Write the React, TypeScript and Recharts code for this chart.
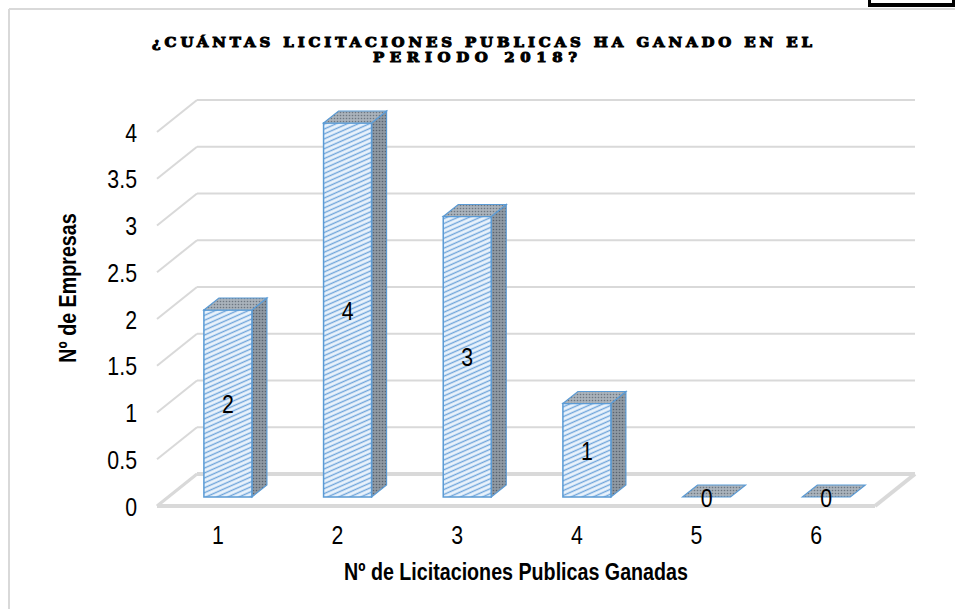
import React from 'react';
import { BarChart, Bar, XAxis, YAxis, CartesianGrid, LabelList } from 'recharts';

// datos
const categorias = ['1', '2', '3', '4', '5', '6'];
const empresas = [2, 4, 3, 1, 0, 0];
const yTicks = [0, 0.5, 1, 1.5, 2, 2.5, 3, 3.5, 4];

const tituloLinea1 = '¿CUÁNTAS LICITACIONES PUBLICAS HA GANADO EN EL';
const tituloLinea2 = 'PERIODO 2018?';
const tituloY = 'Nº de Empresas';
const tituloX = 'Nº de Licitaciones Publicas Ganadas';

const data = categorias.map((cat, i) => ({ cat, value: empresas[i] }));

const W = 955;
const H = 609;
const MARGIN = { top: 132, right: 80, bottom: 73, left: 97 };
const X_AXIS_H = 30;
const Y_AXIS_W = 60;
const PLOT_BOTTOM = H - MARGIN.bottom - X_AXIS_H;

// perspectiva: fondo del suelo y profundidad de barras
const DX = 40;
const DY = 32;
const BX = 11;
const BY = 9;
const BDX = 15;
const BDY = 12;

const FONT = "'Liberation Sans', Arial, sans-serif";
const NARROW = 0.82;
const GRID = '#d9d9d9';
const BLUE = '#5b9bd5';

const NarrowText = ({ x, y, anchor = 'middle', size = 26, weight = 400, rotate = 0, children }: any) => (
  <text
    transform={`translate(${x},${y}) rotate(${rotate}) scale(${NARROW},1)`}
    textAnchor={anchor}
    fontFamily={FONT}
    fontSize={size}
    fontWeight={weight}
    fill='#000'
  >
    {children}
  </text>
);

const gridLine = (props: any) => {
  const { x1, x2, y1, index } = props;
  const isFloor = Math.abs(y1 - PLOT_BOTTOM) < 1;
  return (
    <g key={`g-${index}`}>
      <line x1={x1} y1={y1} x2={x1 + DX} y2={y1 - DY} stroke={GRID} strokeWidth={2} />
      <line x1={x1 + DX} y1={y1 - DY} x2={x2 + DX} y2={y1 - DY} stroke={GRID} strokeWidth={2} />
      {isFloor && (
        <>
          <line x1={x1} y1={y1} x2={x2} y2={y1} stroke={GRID} strokeWidth={4} />
          <line x1={x2} y1={y1} x2={x2 + DX} y2={y1 - DY} stroke={GRID} strokeWidth={4} />
          <line x1={x1 + DX} y1={y1 - DY} x2={x2 + DX} y2={y1 - DY} stroke={GRID} strokeWidth={4} />
          <line x1={x1} y1={y1} x2={x1 + DX} y2={y1 - DY} stroke={GRID} strokeWidth={3} />
        </>
      )}
    </g>
  );
};

const Bar3D = (props: any) => {
  const { x, y, width, height } = props;
  const fx = x + BX;
  const fy = y - BY;
  const w = width;
  const h = Math.max(0, height);
  const top = `${fx},${fy} ${fx + BDX},${fy - BDY} ${fx + w + BDX},${fy - BDY} ${fx + w},${fy}`;
  const side = `${fx + w},${fy} ${fx + w + BDX},${fy - BDY} ${fx + w + BDX},${fy + h - BDY} ${fx + w},${fy + h}`;
  return (
    <g>
      {h > 0 && <polygon points={side} fill='url(#dotsSide)' stroke={BLUE} strokeWidth={1.2} />}
      {h > 0 && <rect x={fx} y={fy} width={w} height={h} fill='url(#hatch)' stroke={BLUE} strokeWidth={1.5} />}
      <polygon points={top} fill='url(#dotsTop)' stroke={BLUE} strokeWidth={1.2} />
    </g>
  );
};

const barLabel = (props: any) => {
  const { x, y, width, height, value } = props;
  const cx = x + width / 2 + BX;
  const cy = y + Math.max(0, height) / 2 - BY;
  return (
    <NarrowText key={`l-${x}`} x={cx} y={cy + 9.5}>
      {value}
    </NarrowText>
  );
};

const XTick = ({ x, y, payload }: any) => (
  <NarrowText x={x + 1} y={y + 38}>
    {payload.value}
  </NarrowText>
);

const YTick = ({ x, y, payload }: any) => (
  <NarrowText x={x} y={y + 9.5} anchor='end'>
    {payload.value}
  </NarrowText>
);

const TITLE_WIDE = 1.15;

const titleStyle = {
  fontFamily: "'DejaVu Serif', serif",
  fontWeight: 700,
  fontSize: 13,
  fill: '#000',
  stroke: '#000',
  strokeWidth: 1,
};

const App = () => {
  return (
    <div style={{ position: 'absolute', left: 0, top: 0, width: W, height: H, overflow: 'hidden', background: '#fff' }}>
      <svg width={0} height={0} style={{ position: 'absolute' }}>
        <defs>
          <pattern id='hatch' width={8} height={4.5} patternUnits='userSpaceOnUse' patternTransform='rotate(-24)'>
            <rect width={8} height={4.5} fill='#eaf3fc' />
            <line x1={0} y1={2.25} x2={8} y2={2.25} stroke='#6fa5db' strokeWidth={1.4} />
          </pattern>
          <pattern id='dotsSide' width={3} height={3} patternUnits='userSpaceOnUse'>
            <rect width={3} height={3} fill='#8f99a3' />
            <circle cx={1.5} cy={1.5} r={0.8} fill='#5a6470' />
          </pattern>
          <pattern id='dotsTop' width={3} height={3} patternUnits='userSpaceOnUse'>
            <rect width={3} height={3} fill='#a9b2bb' />
            <circle cx={1.5} cy={1.5} r={0.8} fill='#6d7782' />
          </pattern>
        </defs>
      </svg>
      <BarChart width={W} height={H} data={data} margin={MARGIN} barCategoryGap='30%'>
        <CartesianGrid vertical={false} horizontal={gridLine} />
        <XAxis
          dataKey='cat'
          height={X_AXIS_H}
          axisLine={false}
          tickLine={false}
          tickSize={0}
          tickMargin={0}
          tick={<XTick />}
        />
        <YAxis
          width={Y_AXIS_W}
          domain={[0, 4]}
          ticks={yTicks}
          axisLine={false}
          tickLine={false}
          tickSize={0}
          tickMargin={20}
          tick={<YTick />}
        />
        <Bar dataKey='value' shape={<Bar3D />} isAnimationActive={false}>
          <LabelList dataKey='value' content={barLabel} />
        </Bar>
      </BarChart>
      <svg width={W} height={H} style={{ position: 'absolute', left: 0, top: 0, pointerEvents: 'none' }}>
        <line x1={9} y1={9} x2={W} y2={9} stroke={GRID} strokeWidth={2} />
        <line x1={9} y1={9} x2={9} y2={H} stroke={GRID} strokeWidth={2} />
        <line x1={868} y1={5} x2={955} y2={5} stroke='#000' strokeWidth={4} />
        <line x1={869.5} y1={0} x2={869.5} y2={7} stroke='#000' strokeWidth={3} />
        <line x1={953.5} y1={0} x2={953.5} y2={7} stroke='#000' strokeWidth={3} />
        <text
          transform={`translate(152,47) scale(${TITLE_WIDE},1)`}
          textLength={660 / TITLE_WIDE}
          lengthAdjust='spacing'
          {...titleStyle}
        >
          {tituloLinea1}
        </text>
        <text
          transform={`translate(373,62) scale(${TITLE_WIDE},1)`}
          textLength={204 / TITLE_WIDE}
          lengthAdjust='spacing'
          {...titleStyle}
        >
          {tituloLinea2}
        </text>
        <NarrowText x={76} y={288} rotate={-90} size={24} weight={700}>
          {tituloY}
        </NarrowText>
        <NarrowText x={516} y={580} size={24} weight={700}>
          {tituloX}
        </NarrowText>
      </svg>
    </div>
  );
};

export default App;
